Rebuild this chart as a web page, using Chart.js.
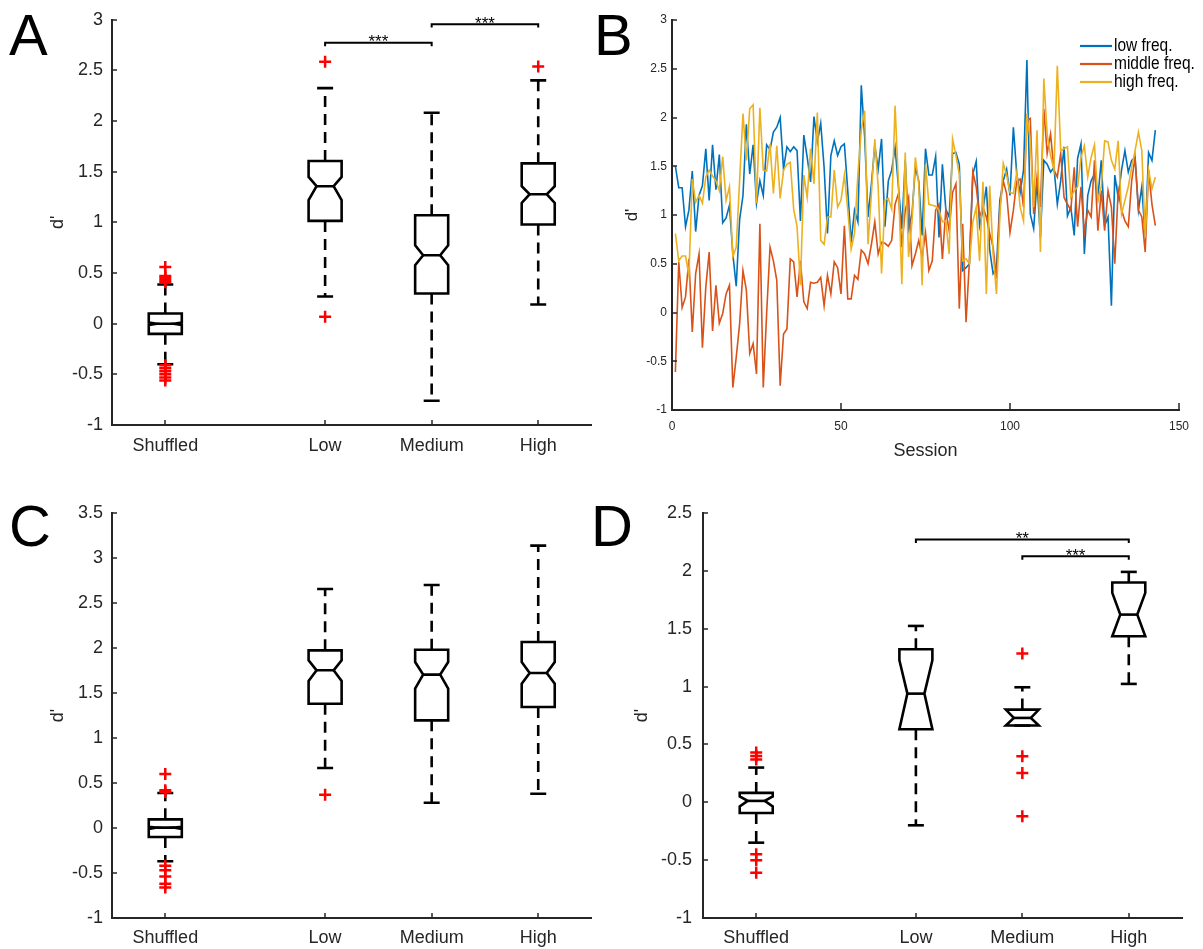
<!DOCTYPE html>
<html>
<head>
<meta charset="utf-8">
<script src="https://cdn.jsdelivr.net/npm/chart.js@4/dist/chart.umd.min.js"></script>
<style>
html,body{margin:0;padding:0;background:#fff;}
body{width:1203px;height:949px;position:relative;overflow:hidden;}
canvas{position:absolute;}
.letter{position:absolute;font-family:'Liberation Sans',Arial,sans-serif;font-size:58px;line-height:58px;color:#000;}
</style>
</head>
<body>
<div class="letter" style="left:9px;top:6px">A</div>
<div class="letter" style="left:594px;top:6px">B</div>
<div class="letter" style="left:9px;top:497px">C</div>
<div class="letter" style="left:591px;top:497px">D</div>
<canvas id="cA" width="600" height="470" style="left:0;top:0"></canvas>
<canvas id="cB" width="603" height="470" style="left:600px;top:0"></canvas>
<canvas id="cC" width="600" height="479" style="left:0;top:470px"></canvas>
<canvas id="cD" width="603" height="479" style="left:600px;top:470px"></canvas>
<script>
// ---------------- data ----------------
const categories = ['Shuffled', 'Low', 'Medium', 'High'];
const categoryPos = [1, 2.5, 3.5, 4.5];

// Panel A
const aQ1 = [-0.10, 1.015, 0.298, 0.979];
const aMedian = [0.00, 1.357, 0.676, 1.278];
const aQ3 = [0.10, 1.606, 1.071, 1.583];
const aNotchLo = [-0.012, 1.219, 0.578, 1.192];
const aNotchHi = [0.012, 1.449, 0.775, 1.357];
const aWhiskerLo = [-0.40, 0.269, -0.76, 0.19];
const aWhiskerHi = [0.387, 2.326, 2.083, 2.402];
const aOutliers = [[0.56, 0.47, 0.45, 0.43, 0.41, -0.41, -0.44, -0.47, -0.50, -0.53, -0.56], [2.586, 0.068], [], [2.54]];
const aSigFrom = [2.5, 3.5];
const aSigTo = [3.5, 4.5];
const aSigLevel = [2.773, 2.957];
const aSigLabel = ['***', '***'];

// Panel C
const cQ1 = [-0.10, 1.381, 1.196, 1.344];
const cMedian = [0.004, 1.752, 1.704, 1.722];
const cQ3 = [0.096, 1.974, 1.981, 2.067];
const cNotchLo = [-0.012, 1.633, 1.548, 1.604];
const cNotchHi = [0.014, 1.863, 1.844, 1.844];
const cWhiskerLo = [-0.37, 0.667, 0.281, 0.381];
const cWhiskerHi = [0.389, 2.656, 2.70, 3.137];
const cOutliers = [[0.60, 0.42, 0.40, -0.42, -0.47, -0.54, -0.62, -0.66], [0.37], [], []];

// Panel D
const dQ1 = [-0.092, 0.631, 0.663, 1.435];
const dMedian = [0.012, 0.939, 0.729, 1.622];
const dQ3 = [0.081, 1.323, 0.801, 1.899];
const dNotchLo = [-0.035, 0.631, 0.663, 1.435];
const dNotchHi = [0.05, 1.228, 0.801, 1.81];
const dWhiskerLo = [-0.349, -0.199, 0.663, 1.023];
const dWhiskerHi = [0.30, 1.524, 0.994, 1.991];
const dOutliers = [[0.43, 0.40, 0.37, -0.45, -0.50, -0.61], [], [1.285, 0.398, 0.254, -0.121], []];
const dSigFrom = [2.5, 3.5];
const dSigTo = [4.5, 4.5];
const dSigLevel = [2.271, 2.127];
const dSigLabel = ['**', '***'];

// Panel B
const seriesNames = ['low freq.', 'middle freq.', 'high freq.'];
const lowFreq = [1.50,1.28,1.28,0.88,1.05,1.45,0.83,1.20,1.30,1.68,1.15,1.72,1.26,1.62,0.92,0.97,1.10,0.60,0.27,0.95,
1.20,1.93,1.42,1.72,1.12,1.35,1.20,1.72,1.67,1.85,1.90,2.00,1.47,1.70,1.65,1.70,1.66,0.94,1.82,1.59,
1.34,2.01,1.75,1.94,1.49,0.81,1.61,1.76,1.61,1.70,1.73,1.25,0.72,1.05,0.93,2.33,1.80,0.98,1.32,1.71,
1.47,1.78,0.88,1.35,1.46,1.69,1.29,0.86,1.56,0.86,1.01,1.49,1.35,0.79,1.68,1.41,1.41,1.60,0.77,1.52,
1.06,0.98,1.63,1.64,1.52,0.43,0.46,0.50,1.42,1.55,0.89,1.05,1.29,0.64,0.40,0.46,1.15,1.35,1.47,1.20,
1.90,1.42,1.23,1.46,2.59,1.01,0.86,1.35,0.77,1.56,1.52,1.44,1.49,1.11,1.35,1.70,0.99,1.08,0.79,1.58,
1.73,0.60,1.20,1.35,1.42,1.18,1.56,0.89,0.98,0.07,1.41,1.18,1.46,1.66,1.44,1.56,1.59,1.05,1.29,0.77,
1.64,1.56,1.87];
const middleFreq = [-0.61,0.52,0.05,0.16,0.55,-0.20,0.40,0.60,-0.36,0.26,0.62,-0.19,0.28,-0.11,-0.01,0.19,0.28,-0.77,-0.46,-0.12,
0.43,0.23,-0.42,-0.32,-0.63,0.91,-0.77,-0.01,0.67,0.53,0.33,-0.75,-0.22,-0.17,0.55,0.52,0.16,0.53,0.11,0.04,
0.31,0.30,0.31,0.36,0.07,0.38,0.19,0.52,0.46,0.19,0.89,0.14,0.14,0.38,0.34,0.64,0.60,0.50,0.70,0.93,
0.60,0.72,0.71,0.68,0.74,1.11,1.22,0.67,1.05,1.18,0.48,0.60,0.74,0.57,0.82,0.43,0.53,1.05,1.11,0.55,
1.05,0.84,1.23,1.32,0.04,0.91,-0.10,0.53,1.44,1.29,0.98,1.08,0.98,0.81,0.67,0.35,1.08,1.35,1.22,0.82,
1.05,1.35,1.37,1.08,1.97,1.99,1.01,1.39,1.08,2.09,1.63,1.83,1.46,1.39,1.63,1.18,1.11,1.05,1.49,0.88,
1.29,0.82,1.05,0.98,1.56,0.84,1.25,0.84,1.25,1.08,0.50,1.25,1.05,0.94,0.88,1.35,1.59,1.05,0.98,0.62,
1.46,1.11,0.89];
const highFreq = [0.81,0.53,0.58,0.58,0.38,1.37,1.13,1.20,1.12,1.39,1.46,1.40,1.35,1.25,1.60,1.15,1.29,0.57,0.67,1.35,
2.04,1.56,2.09,2.13,1.12,2.10,1.46,1.45,1.73,1.22,1.71,1.17,1.46,1.52,1.54,1.06,0.88,0.28,1.41,1.18,
1.68,1.32,2.05,0.74,0.70,0.98,0.98,1.46,1.08,1.15,1.41,1.05,0.65,0.81,1.42,1.87,2.07,0.70,1.22,1.78,
1.29,0.40,1.15,1.17,1.06,2.12,1.32,0.29,1.64,0.57,0.93,1.59,1.32,0.28,1.52,1.11,1.10,1.09,1.05,0.93,
0.94,0.60,1.78,1.61,1.42,0.53,0.55,0.50,0.93,1.08,0.53,1.34,0.19,1.30,0.60,0.19,0.98,1.53,1.41,1.23,
1.22,1.44,1.08,0.94,2.04,1.76,1.08,1.87,0.62,2.40,1.83,1.61,1.46,2.53,1.66,1.68,1.70,1.18,1.25,1.29,
1.59,1.71,1.39,1.59,1.72,1.15,1.29,1.76,1.75,1.56,1.47,1.76,1.01,1.15,1.29,1.49,1.66,1.85,1.66,0.77,
1.46,1.27,1.39];
const sessions = lowFreq.map((_, i) => i + 1);
const seriesColors = ['#0072BD', '#D95319', '#EDB120'];

// ---------------- styling helpers ----------------
const AX = '#262626';
const SANS = "'Liberation Sans', Arial, Helvetica, sans-serif";
const numLabel = v => String(Math.round(v * 100) / 100);

const matlabPlugin = {
  id: 'matlab',
  afterDatasetsDraw(chart, args, o) {
    const ctx = chart.ctx, a = chart.chartArea;
    const xs = chart.scales.x, ys = chart.scales.y;
    ctx.save();
    ctx.strokeStyle = AX;
    ctx.lineWidth = o.tickWidth;
    ys.ticks.forEach(t => {
      const p = Math.round(ys.getPixelForValue(t.value));
      ctx.beginPath(); ctx.moveTo(a.left, p); ctx.lineTo(a.left + o.yTickLen, p); ctx.stroke();
    });
    xs.ticks.forEach(t => {
      const p = Math.round(xs.getPixelForValue(t.value));
      ctx.beginPath(); ctx.moveTo(p, a.bottom); ctx.lineTo(p, a.bottom - o.xTickLen); ctx.stroke();
    });
    (o.sig || []).forEach(s => {
      ctx.fillStyle = '#000';
      ctx.font = '17px ' + SANS;
      ctx.textAlign = 'center';
      ctx.textBaseline = 'alphabetic';
      ctx.fillText(s.text, xs.getPixelForValue((s.from + s.to) / 2), ys.getPixelForValue(s.level) + 4.5);
    });
    if (o.legend) {
      const L = o.legend;
      chart.data.datasets.forEach((d, i) => {
        const y = L.ys[i];
        ctx.strokeStyle = d.borderColor; ctx.lineWidth = 2.2;
        ctx.beginPath(); ctx.moveTo(L.x0, y); ctx.lineTo(L.x1, y); ctx.stroke();
        ctx.save();
        ctx.translate(L.textX, y);
        ctx.scale(L.squeeze, 1);
        ctx.fillStyle = '#000'; ctx.font = L.font; ctx.textAlign = 'left'; ctx.textBaseline = 'middle';
        ctx.fillText(d.label, 0, 0);
        ctx.restore();
      });
    }
    ctx.restore();
  }
};

function makeBox(id, st, yMin, yMax, L) {
  const W = 0.155, NW = 0.08, CAP = 0.075, DASH = [11, 7];
  const ds = [];
  const seg = (pts, extra) => ds.push(Object.assign({
    data: pts, showLine: true, pointRadius: 0, borderColor: '#000', borderWidth: 2.6,
    tension: 0, fill: false, borderJoinStyle: 'miter'
  }, extra || {}));
  categoryPos.forEach((x, i) => {
    const q1 = st.q1[i], md = st.med[i], q3 = st.q3[i], nl = st.nLo[i], nh = st.nHi[i];
    const wl = st.wLo[i], wh = st.wHi[i];
    if (wh > q3) seg([{x, y: q3}, {x, y: wh}], {borderDash: DASH, order: 3});
    if (wl < q1) seg([{x, y: q1}, {x, y: wl}], {borderDash: DASH, order: 3});
    seg([{x: x - CAP, y: wh}, {x: x + CAP, y: wh}], {order: 2});
    seg([{x: x - CAP, y: wl}, {x: x + CAP, y: wl}], {order: 2});
    seg([{x: x - W, y: q3}, {x: x + W, y: q3}, {x: x + W, y: nh}, {x: x + NW, y: md}, {x: x + W, y: nl},
         {x: x + W, y: q1}, {x: x - W, y: q1}, {x: x - W, y: nl}, {x: x - NW, y: md}, {x: x - W, y: nh},
         {x: x - W, y: q3}, {x: x + W, y: q3}], {order: 2});
    seg([{x: x - NW, y: md}, {x: x + NW, y: md}], {order: 2});
    if (st.out[i].length) ds.push({
      data: st.out[i].map(v => ({x, y: v})), showLine: false, pointStyle: 'cross', pointRadius: 6,
      pointBorderColor: '#ff0000', pointBackgroundColor: '#ff0000', pointBorderWidth: 2.5, order: 1
    });
  });
  const sig = [];
  (st.sigFrom || []).forEach((f, k) => {
    const t = st.sigTo[k], lv = st.sigLevel[k], d = L.sigDrop;
    seg([{x: f, y: lv - d}, {x: f, y: lv}, {x: t, y: lv}, {x: t, y: lv - d}], {borderWidth: 2, order: 2});
    sig.push({from: f, to: t, level: lv, text: st.sigLabel[k]});
  });
  return new Chart(document.getElementById(id), {
    type: 'scatter',
    data: {datasets: ds},
    options: {
      responsive: false, animation: false, devicePixelRatio: 1, events: [],
      layout: {padding: {left: 0, right: L.padRight, top: L.padTop, bottom: 0}},
      plugins: {
        legend: {display: false}, tooltip: {enabled: false},
        matlab: {yTickLen: 5, xTickLen: 5, tickWidth: 1.5, sig}
      },
      scales: {
        x: {
          type: 'linear', min: 0.5, max: 5,
          afterBuildTicks: s => { s.ticks = categoryPos.map(v => ({value: v})); },
          ticks: {
            autoSkip: false, maxRotation: 0, padding: L.xTickPad, color: AX, font: {family: SANS, size: 18},
            callback: v => { const i = categoryPos.findIndex(p => Math.abs(p - v) < 1e-6); return i >= 0 ? categories[i] : ''; }
          },
          grid: {display: false, drawTicks: false},
          border: {display: true, color: AX, width: 2},
          afterFit: s => { s.height = L.xHeight; }
        },
        y: {
          type: 'linear', min: yMin, max: yMax,
          ticks: {stepSize: 0.5, padding: L.yTickPad, color: AX, font: {family: SANS, size: 18}, callback: numLabel},
          grid: {display: false, drawTicks: false},
          border: {display: true, color: AX, width: 2},
          title: {display: true, text: "d'", color: AX, font: {family: SANS, size: 18}, padding: {top: L.titlePad, bottom: 0}},
          afterFit: s => { s.width = L.yWidth; }
        }
      }
    },
    plugins: [matlabPlugin]
  });
}

makeBox('cA', {q1: aQ1, med: aMedian, q3: aQ3, nLo: aNotchLo, nHi: aNotchHi, wLo: aWhiskerLo, wHi: aWhiskerHi,
  out: aOutliers, sigFrom: aSigFrom, sigTo: aSigTo, sigLevel: aSigLevel, sigLabel: aSigLabel},
  -1, 3, {yWidth: 112, xHeight: 45, padRight: 8, padTop: 19, xTickPad: 10, yTickPad: 9, titlePad: 47, sigDrop: 0.034});

makeBox('cC', {q1: cQ1, med: cMedian, q3: cQ3, nLo: cNotchLo, nHi: cNotchHi, wLo: cWhiskerLo, wHi: cWhiskerHi,
  out: cOutliers},
  -1, 3.5, {yWidth: 112, xHeight: 31, padRight: 8, padTop: 43, xTickPad: 9, yTickPad: 9, titlePad: 47, sigDrop: 0.03});

makeBox('cD', {q1: dQ1, med: dMedian, q3: dQ3, nLo: dNotchLo, nHi: dNotchHi, wLo: dWhiskerLo, wHi: dWhiskerHi,
  out: dOutliers, sigFrom: dSigFrom, sigTo: dSigTo, sigLevel: dSigLevel, sigLabel: dSigLabel},
  -1, 2.5, {yWidth: 103, xHeight: 31, padRight: 21, padTop: 43, xTickPad: 9, yTickPad: 11, titlePad: 31, sigDrop: 0.03});

// Panel B
const bSeries = [lowFreq, middleFreq, highFreq];
new Chart(document.getElementById('cB'), {
  type: 'scatter',
  data: {
    datasets: bSeries.map((vals, k) => ({
      label: seriesNames[k],
      data: vals.map((v, i) => ({x: sessions[i], y: v})),
      showLine: true, pointRadius: 0, borderColor: seriesColors[k], borderWidth: 1.6,
      tension: 0, fill: false, order: 2 - k
    }))
  },
  options: {
    responsive: false, animation: false, devicePixelRatio: 1, events: [],
    layout: {padding: {left: 0, right: 24, top: 20, bottom: 0}},
    plugins: {
      legend: {display: false}, tooltip: {enabled: false},
      matlab: {yTickLen: 5, xTickLen: 7, tickWidth: 1.5,
        legend: {x0: 480, x1: 512, ys: [46, 64, 82], textX: 514, squeeze: 0.86, font: "18px " + SANS}}
    },
    scales: {
      x: {
        type: 'linear', min: 0, max: 150,
        ticks: {stepSize: 50, padding: 9, color: AX, font: {family: SANS, size: 12}, callback: numLabel, maxRotation: 0},
        grid: {display: false, drawTicks: false},
        border: {display: true, color: AX, width: 2},
        title: {display: true, text: 'Session', color: AX, font: {family: SANS, size: 18}, padding: {top: 0, bottom: 8}},
        afterFit: s => { s.height = 60; }
      },
      y: {
        type: 'linear', min: -1, max: 3,
        ticks: {stepSize: 0.5, padding: 5, color: AX, font: {family: SANS, size: 12}, callback: numLabel},
        grid: {display: false, drawTicks: false},
        border: {display: true, color: AX, width: 2},
        title: {display: true, text: "d'", color: AX, font: {family: SANS, size: 17}, padding: {top: 22, bottom: 0}},
        afterFit: s => { s.width = 72; }
      }
    }
  },
  plugins: [matlabPlugin]
});
</script>
</body>
</html>
